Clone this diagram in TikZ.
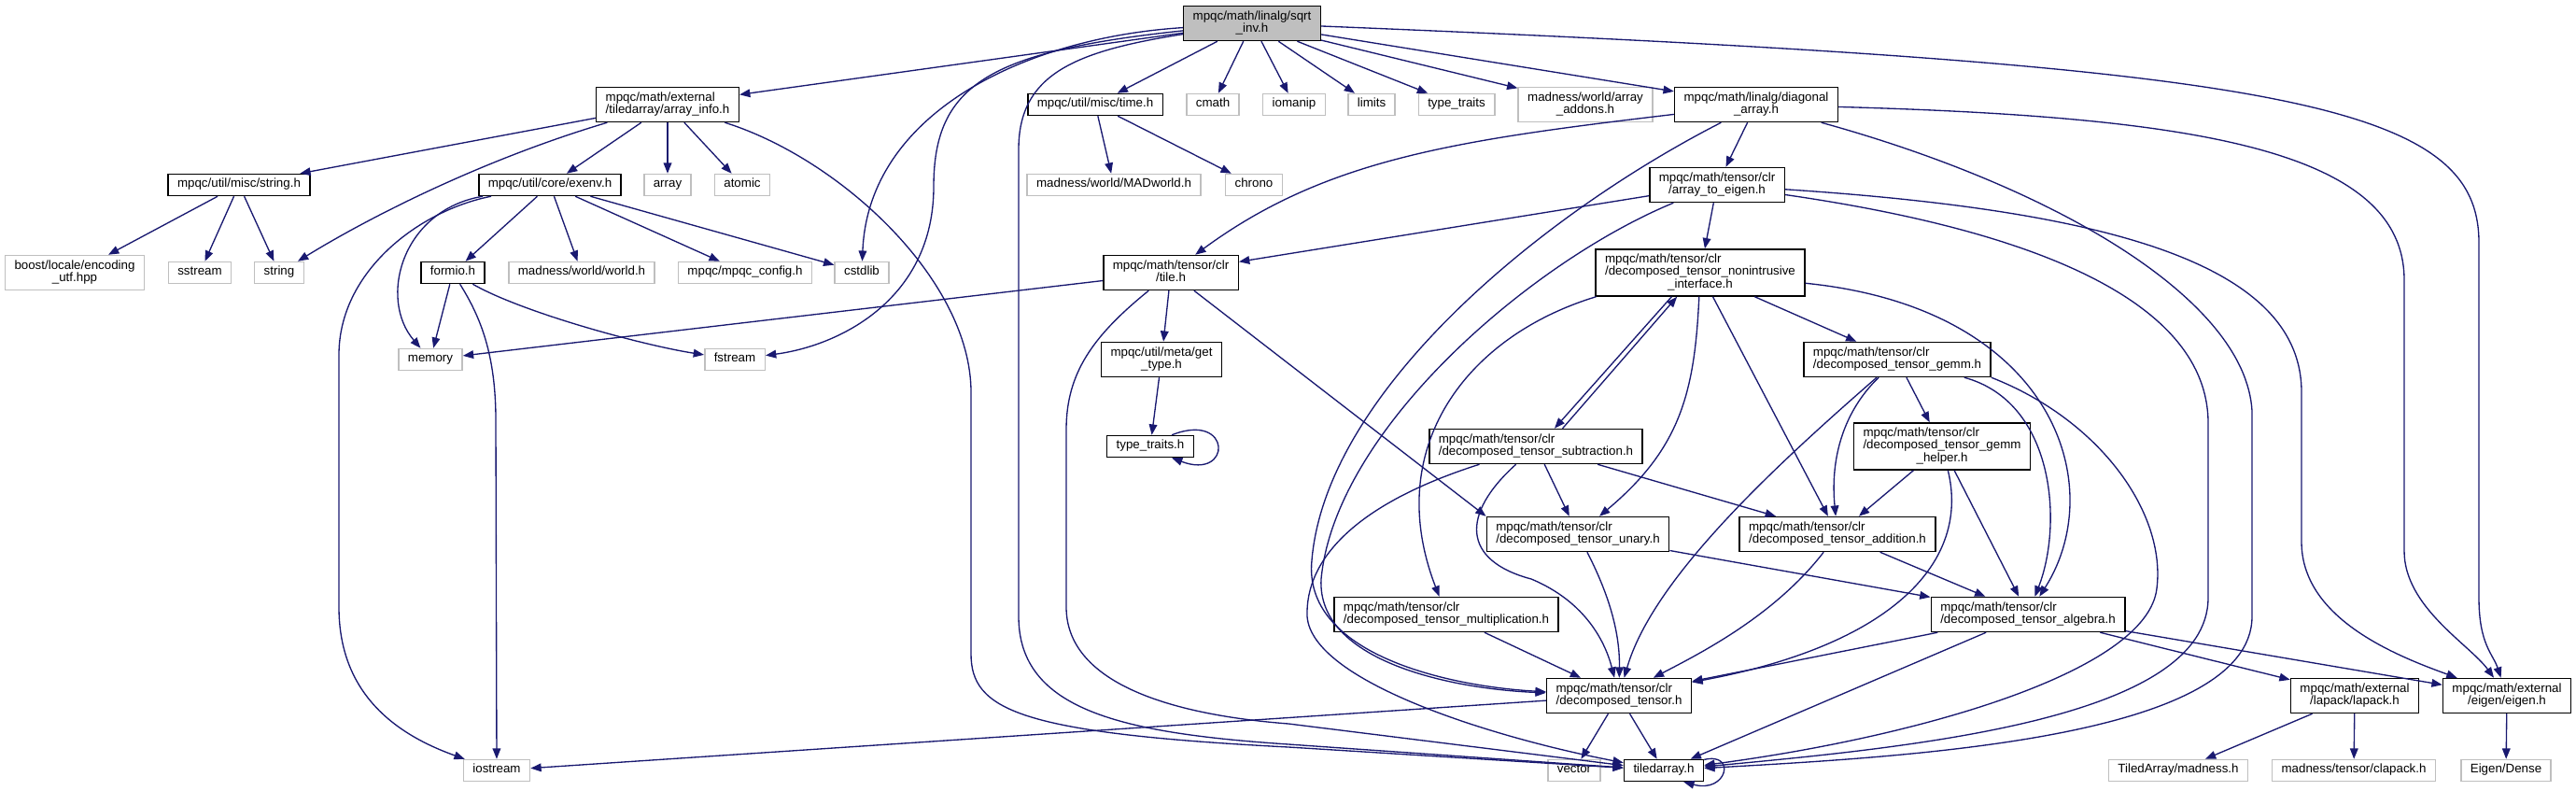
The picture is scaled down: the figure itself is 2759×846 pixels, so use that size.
\documentclass[tikz,border=0pt]{standalone}
\usepackage{fontspec}
\setmainfont{Liberation Sans}
\usetikzlibrary{arrows.meta}
\definecolor{edgeblue}{HTML}{191970}
\definecolor{extgray}{HTML}{BFBFBF}
\newcommand{\flbl}[2]{\begin{tabular}{@{}l@{}}#1\\\multicolumn{1}{@{}c@{}}{#2}\end{tabular}}

\begin{document}
\begin{tikzpicture}[x=0.75pt, y=-0.75pt,
    box/.style={draw, fill=white, line width=1.1pt, inner xsep=7.5pt, inner ysep=2pt, minimum height=17.25pt, font=\fontsize{10}{10}\selectfont, execute at begin node=\strut},
    hdr/.style={box, draw=black},
    sys/.style={box, draw=extgray},
    two/.style={minimum height=27.75pt},
    three/.style={minimum height=37.5pt},
    inc/.style={draw=edgeblue, line width=1pt, -{Triangle[length=8.5pt,width=6.5pt]}}]
  \useasboundingbox (0,0) rectangle (2759,846);

  % fichero principal
  \node[hdr, two, fill=extgray] (sqrtinv) at (1341,25) {\flbl{mpqc/math/linalg/sqrt}{\_inv.h}};
  % nivel 1
  \node[hdr, two] (arrinfo) at (715,112) {\flbl{mpqc/math/external}{/tiledarray/array\_info.h}};
  \node[hdr] (timeh) at (1173,112) {mpqc/util/misc/time.h};
  \node[sys] (cmath) at (1299,112) {cmath};
  \node[sys] (iomanip) at (1386,112) {iomanip};
  \node[sys] (limits) at (1469,112) {limits};
  \node[sys] (typetr) at (1560,112) {type\_traits};
  \node[sys, two] (addons) at (1698,112) {\flbl{madness/world/array}{\_addons.h}};
  \node[hdr, two] (diagarr) at (1881,112) {\flbl{mpqc/math/linalg/diagonal}{\_array.h}};
  % nivel 2
  \node[hdr] (stringh) at (256,198) {mpqc/util/misc/string.h};
  \node[hdr] (exenv) at (589,198) {mpqc/util/core/exenv.h};
  \node[sys] (array) at (715,198) {array};
  \node[sys] (atomic) at (795,198) {atomic};
  \node[sys] (madworld) at (1193,198) {madness/world/MADworld.h};
  \node[sys] (chrono) at (1343,198) {chrono};
  \node[hdr, two] (arr2eig) at (1839,198) {\flbl{mpqc/math/tensor/clr}{/array\_to\_eigen.h}};
  % nivel 3
  \node[sys, two] (boost) at (80,292) {\flbl{boost/locale/encoding}{\_utf.hpp}};
  \node[sys] (sstream) at (214,292) {sstream};
  \node[sys] (string) at (299,292) {string};
  \node[hdr] (formio) at (485,292) {formio.h};
  \node[sys] (worldh) at (623,292) {madness/world/world.h};
  \node[sys] (config) at (798,292) {mpqc/mpqc\_config.h};
  \node[sys] (cstdlib) at (923,292) {cstdlib};
  \node[hdr, two] (tileh) at (1254,292) {\flbl{mpqc/math/tensor/clr}{/tile.h}};
  \node[hdr, three] (nonintr) at (1821,292) {\flbl{mpqc/math/tensor/clr\\/decomposed\_tensor\_nonintrusive}{\_interface.h}};
  % nivel 4
  \node[sys] (memory) at (461,385) {memory};
  \node[sys] (fstream) at (787,385) {fstream};
  \node[hdr, two] (gettype) at (1244,385) {\flbl{mpqc/util/meta/get}{\_type.h}};
  \node[hdr, two] (gemm) at (2032,385) {\flbl{mpqc/math/tensor/clr}{/decomposed\_tensor\_gemm.h}};
  % nivel 5
  \node[hdr] (typetrh) at (1232,478) {type\_traits.h};
  \node[hdr, two] (subtr) at (1645,478) {\flbl{mpqc/math/tensor/clr}{/decomposed\_tensor\_subtraction.h}};
  \node[hdr, three] (gemmhlp) at (2080,478) {\flbl{mpqc/math/tensor/clr\\/decomposed\_tensor\_gemm}{\_helper.h}};
  % nivel 6
  \node[hdr, two] (unary) at (1690,572) {\flbl{mpqc/math/tensor/clr}{/decomposed\_tensor\_unary.h}};
  \node[hdr, two] (addit) at (1968,572) {\flbl{mpqc/math/tensor/clr}{/decomposed\_tensor\_addition.h}};
  % nivel 7
  \node[hdr, two] (mult) at (1549,658) {\flbl{mpqc/math/tensor/clr}{/decomposed\_tensor\_multiplication.h}};
  \node[hdr, two] (algebra) at (2172,658) {\flbl{mpqc/math/tensor/clr}{/decomposed\_tensor\_algebra.h}};
  % nivel 8
  \node[hdr, two] (dtensor) at (1734,745) {\flbl{mpqc/math/tensor/clr}{/decomposed\_tensor.h}};
  \node[hdr, two] (lapack) at (2522,745) {\flbl{mpqc/math/external}{/lapack/lapack.h}};
  \node[hdr, two] (eigenh) at (2685,745) {\flbl{mpqc/math/external}{/eigen/eigen.h}};
  % nivel 9
  \node[sys] (iostream) at (532,825) {iostream};
  \node[sys] (vector) at (1686,825) {vector};
  \node[hdr] (tiledarr) at (1782,825) {tiledarray.h};
  \node[sys] (tamad) at (2333,825) {TiledArray/madness.h};
  \node[sys] (clapack) at (2521,825) {madness/tensor/clapack.h};
  \node[sys] (dense) at (2684,825) {Eigen/Dense};

  % desde sqrt_inv.h
  \draw[inc] (sqrtinv) -- (arrinfo);
  \draw[inc] (sqrtinv) .. controls (1100,40) and (930,120) .. (cstdlib);
  \draw[inc] (sqrtinv) .. controls (1060,55) and (1000,90) .. (1000,200) .. controls (1000,320) and (900,370) .. (fstream);
  \draw[inc] (sqrtinv) .. controls (1150,55) and (1091,80) .. (1091,160) -- (1091,660) .. controls (1091,760) and (1200,785) .. (1380,797) -- (tiledarr);
  \draw[inc] (sqrtinv) -- (timeh);
  \draw[inc] (sqrtinv) -- (cmath);
  \draw[inc] (sqrtinv) -- (iomanip);
  \draw[inc] (sqrtinv) -- (limits);
  \draw[inc] (sqrtinv) -- (typetr);
  \draw[inc] (sqrtinv) -- (addons);
  \draw[inc] (sqrtinv) -- (diagarr);
  \draw[inc] (sqrtinv) .. controls (2450,70) and (2655,110) .. (2655,260) -- (2655,640) .. controls (2655,690) and (2670,700) .. (eigenh);

  % array_info.h
  \draw[inc] (arrinfo) -- (stringh);
  \draw[inc] (arrinfo) .. controls (520,170) and (400,230) .. (string);
  \draw[inc] (arrinfo) -- (exenv);
  \draw[inc] (arrinfo) -- (array);
  \draw[inc] (arrinfo) -- (atomic);
  \draw[inc] (arrinfo) .. controls (900,170) and (1040,300) .. (1040,420) -- (1040,700) .. controls (1040,760) and (1090,785) .. (1380,800) -- (tiledarr);

  % string.h y exenv.h
  \draw[inc] (stringh) -- (boost);
  \draw[inc] (stringh) -- (sstream);
  \draw[inc] (stringh) -- (string);
  \draw[inc] (exenv) .. controls (450,225) and (363,290) .. (363,380) -- (363,650) .. controls (363,740) and (420,785) .. (iostream);
  \draw[inc] (exenv) .. controls (430,225) and (405,320) .. (memory);
  \draw[inc] (exenv) -- (formio);
  \draw[inc] (exenv) -- (worldh);
  \draw[inc] (exenv) -- (config);
  \draw[inc] (exenv) -- (cstdlib);

  % formio.h y time.h
  \draw[inc] (formio) -- (memory);
  \draw[inc] (formio) .. controls (515,340) and (531,380) .. (531,450) -- (iostream);
  \draw[inc] (formio) .. controls (560,335) and (690,370) .. (fstream);
  \draw[inc] (timeh) -- (madworld);
  \draw[inc] (timeh) -- (chrono);

  % diagonal_array.h
  \draw[inc] (diagarr) .. controls (1560,150) and (1420,170) .. (tileh);
  \draw[inc] (diagarr) -- (arr2eig);
  \draw[inc] (diagarr) .. controls (1650,230) and (1420,420) .. (1405,600) .. controls (1395,700) and (1550,735) .. (dtensor);
  \draw[inc] (diagarr) .. controls (2350,125) and (2575,160) .. (2575,300) -- (2575,590) .. controls (2575,650) and (2645,690) .. (eigenh);
  \draw[inc] (diagarr) .. controls (2200,200) and (2405,320) .. (2412,440) -- (2412,660) .. controls (2412,790) and (2050,810) .. (tiledarr);

  % array_to_eigen.h
  \draw[inc] (arr2eig) -- (tileh);
  \draw[inc] (arr2eig) -- (nonintr);
  \draw[inc] (arr2eig) .. controls (1640,280) and (1430,460) .. (1415,620) .. controls (1410,710) and (1560,738) .. (dtensor);
  \draw[inc] (arr2eig) .. controls (2250,225) and (2465,280) .. (2465,420) -- (2465,580) .. controls (2465,660) and (2560,700) .. (eigenh);
  \draw[inc] (arr2eig) .. controls (2200,250) and (2362,330) .. (2365,450) -- (2365,640) .. controls (2365,770) and (2050,800) .. (tiledarr);

  % tile.h y get_type.h
  \draw[inc] (tileh) -- (memory);
  \draw[inc] (tileh) -- (gettype);
  \draw[inc] (tileh) -- (unary.north west);
  \draw[inc] (tileh) .. controls (1170,360) and (1142,400) .. (1142,460) -- (1142,650) .. controls (1142,730) and (1250,765) .. (1380,775) -- (tiledarr);
  \draw[inc] (gettype) -- (typetrh);
  \draw[inc] (typetrh.28) .. controls (1320,440) and (1320,515) .. (typetrh.-28);

  % nonintrusive_interface.h
  \draw[inc] (nonintr.193) .. controls (1570,360) and (1480,480) .. (mult);
  \draw[inc] (nonintr.220) -- (subtr.44);
  \draw[inc] (nonintr) .. controls (1815,420) and (1800,480) .. (unary);
  \draw[inc] (nonintr) -- (addit);
  \draw[inc] (nonintr) -- (gemm);
  \draw[inc] (nonintr) .. controls (2200,330) and (2260,520) .. (algebra);

  % subtraction.h
  \draw[inc] (subtr.34) -- (nonintr.226);
  \draw[inc] (subtr) -- (unary);
  \draw[inc] (subtr) -- (addit);
  \draw[inc] (subtr) .. controls (1565,550) and (1565,600) .. (1640,620) .. controls (1700,645) and (1720,690) .. (dtensor);
  \draw[inc] (subtr) .. controls (1450,540) and (1398,600) .. (1400,660) .. controls (1405,730) and (1600,790) .. (tiledarr);

  % gemm.h y gemm_helper.h
  \draw[inc] (gemm) -- (gemmhlp);
  \draw[inc] (gemm) .. controls (1975,440) and (1960,490) .. (addit);
  \draw[inc] (gemm) .. controls (1900,500) and (1770,620) .. (dtensor);
  \draw[inc] (gemm) .. controls (2200,430) and (2210,560) .. (algebra);
  \draw[inc] (gemm.south east) .. controls (2250,450) and (2320,550) .. (2310,630) .. controls (2300,720) and (2050,790) .. (tiledarr);
  \draw[inc] (gemmhlp) -- (addit);
  \draw[inc] (gemmhlp) -- (algebra);
  \draw[inc] (gemmhlp) .. controls (2110,600) and (2030,690) .. (dtensor);

  % unary, addition, multiplication, algebra
  \draw[inc] (unary) .. controls (1725,640) and (1735,680) .. (dtensor);
  \draw[inc] (unary) -- (algebra);
  \draw[inc] (addit) .. controls (1900,660) and (1820,700) .. (dtensor);
  \draw[inc] (addit) -- (algebra);
  \draw[inc] (mult) -- (dtensor);
  \draw[inc] (algebra) -- (dtensor);
  \draw[inc] (algebra) -- (tiledarr);
  \draw[inc] (algebra) -- (lapack);
  \draw[inc] (algebra) -- (eigenh);

  % decomposed_tensor.h, lapack.h, eigen.h
  \draw[inc] (dtensor) -- (iostream);
  \draw[inc] (dtensor) -- (vector);
  \draw[inc] (dtensor) -- (tiledarr);
  \draw[inc] (lapack) -- (tamad);
  \draw[inc] (lapack) -- (clapack);
  \draw[inc] (eigenh) -- (dense);
  \draw[inc] (tiledarr.15) .. controls (1860,805) and (1850,850) .. (tiledarr.-30);
\end{tikzpicture}
\end{document}
